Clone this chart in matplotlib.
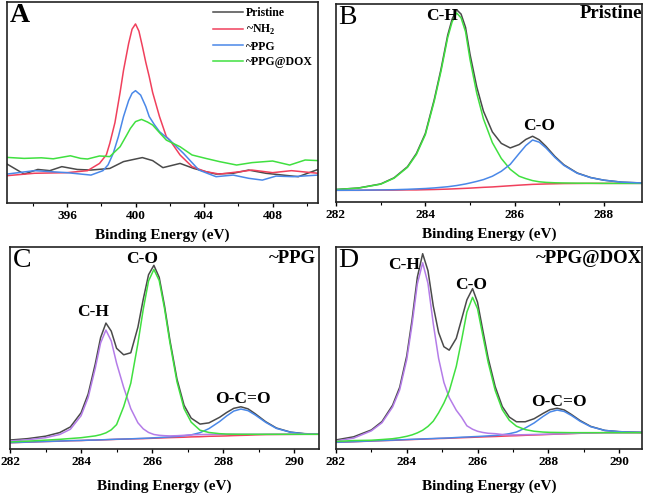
import matplotlib.pyplot as plt

plt.rcParams['font.family'] = ['Liberation Serif', 'DejaVu Serif']
plt.rcParams['mathtext.fontset'] = 'custom'
plt.rcParams['mathtext.rm'] = 'Liberation Serif'
plt.rcParams['mathtext.bf'] = 'Liberation Serif:bold'
plt.rcParams['lines.solid_joinstyle'] = 'round'

# ---- panel A : N1s spectra ----
a_pristine_x = [392.5, 393.5, 394.3, 395.0, 395.7, 396.6, 397.4, 398.5, 399.3, 399.9, 400.4, 401.0,
                401.6, 402.6, 403.4, 404.1, 404.7, 405.7, 406.6, 407.6, 408.6, 409.5, 410.65]
a_pristine_y = [19.4, 14.4, 16.7, 16.1, 18.1, 16.7, 16.4, 17.2, 20.6, 21.7, 22.6, 21.1,
                17.6, 19.7, 17.2, 15.6, 14.4, 14.8, 16.4, 14.8, 13.9, 13.1, 16.7]
a_nh2_x = [392.5, 394.1, 396.0, 397.2, 397.9, 398.3, 398.5, 398.8, 399.1, 399.3, 399.6, 399.8, 400.0,
           400.2, 400.4, 400.6, 400.8, 401.0, 401.4, 401.8, 402.0, 402.6, 403.3, 404.1, 404.9,
           406.1, 406.8, 408.0, 409.1, 410.65]
a_nh2_y = [13.6, 14.8, 15.1, 16.1, 19.7, 24.0, 29.7, 40.0, 55.0, 66.0, 79.4, 86.5, 89.1,
           85.5, 78.0, 70.0, 62.9, 55.0, 43.0, 33.0, 31.3, 23.9, 18.1, 15.6, 14.4,
           15.6, 16.4, 15.1, 16.1, 14.8]
a_ppg_x = [392.5, 394.1, 396.0, 397.4, 398.1, 398.4, 398.7, 399.0, 399.3, 399.6, 399.8, 400.0, 400.3,
           400.6, 400.8, 401.1, 401.4, 402.0, 402.8, 403.7, 404.7, 405.7, 406.6, 407.4, 408.2,
           409.2, 410.65]
a_ppg_y = [14.4, 16.1, 15.1, 13.9, 16.1, 19.0, 24.7, 33.0, 43.0, 51.0, 54.6, 55.9, 53.7,
           48.0, 43.0, 39.0, 35.5, 31.3, 24.7, 16.4, 13.1, 13.9, 12.3, 11.4, 13.4,
           13.1, 13.9]
a_dox_x = [392.5, 393.5, 394.5, 395.2, 396.2, 396.8, 397.2, 397.9, 398.5, 399.1, 399.5, 399.7, 400.0,
           400.35, 400.7, 401.0, 401.4, 401.8, 402.6, 403.3, 404.1, 404.9, 405.9, 406.8, 408.0,
           409.0, 409.9, 410.65]
a_dox_y = [22.7, 22.2, 22.5, 22.0, 23.5, 22.2, 21.9, 23.4, 23.1, 28.0, 34.0, 37.1, 40.5,
           41.6, 40.3, 38.8, 35.0, 31.3, 28.0, 23.9, 22.2, 20.6, 18.9, 20.1, 20.9,
           18.9, 21.4, 21.1]
a_ticks = [396, 400, 404, 408]
a_minor = [394, 398, 402, 406, 410]

# ---- panel B : C1s pristine ----
b_x = [282.0, 282.5, 283.0, 283.3, 283.6, 283.8, 284.0, 284.2, 284.35, 284.5, 284.6, 284.7, 284.8,
       284.9, 285.0, 285.15, 285.3, 285.5, 285.7, 285.9, 286.1, 286.25, 286.4, 286.55, 286.7,
       286.9, 287.1, 287.4, 287.7, 288.0, 288.4, 288.85]
b_total = [6.3, 7.05, 9.1, 12.2, 17.8, 24.5, 34.6, 51.8, 67.0, 84.2, 92.4, 97.1, 94.9,
           88.2, 74.6, 58.2, 45.9, 35.4, 29.6, 27.3, 29.0, 31.6, 33.2, 31.4, 28.1,
           23.0, 18.8, 14.65, 12.35, 11.0, 10.0, 9.6]
b_ch = [6.3, 7.0, 9.0, 12.0, 17.5, 24.0, 34.0, 51.0, 66.0, 83.0, 91.0, 95.5, 93.0,
        86.0, 72.0, 55.0, 42.0, 30.0, 22.0, 16.5, 13.0, 11.8, 10.8, 10.2, 9.9,
        9.7, 9.6, 9.5, 9.45, 9.4, 9.4, 9.4]
b_co = [5.9, 5.95, 6.1, 6.2, 6.4, 6.6, 6.8, 7.1, 7.4, 7.7, 8.0, 8.3, 8.7,
        9.1, 9.6, 10.4, 11.3, 13.0, 15.5, 19.0, 24.5, 28.5, 31.3, 30.2, 27.3,
        22.5, 18.5, 14.5, 12.3, 11.0, 10.0, 9.6]
b_base = [5.9, 5.9, 6.0, 6.0, 6.1, 6.1, 6.2, 6.3, 6.4, 6.5, 6.6, 6.7, 6.8,
          6.9, 7.0, 7.2, 7.4, 7.6, 7.9, 8.2, 8.5, 8.7, 8.9, 9.0, 9.1,
          9.2, 9.3, 9.35, 9.4, 9.4, 9.4, 9.4]
b_ticks = [282, 284, 286, 288]
b_minor = [283, 285, 287]

# ---- panel C : C1s ~PPG ----
c_x = [282.0, 282.5, 283.0, 283.4, 283.7, 284.0, 284.2, 284.4, 284.55, 284.7, 284.85, 285.0, 285.2,
       285.4, 285.6, 285.75, 285.9, 286.05, 286.2, 286.35, 286.5, 286.7, 286.9, 287.1, 287.35,
       287.6, 287.9, 288.1, 288.3, 288.5, 288.7, 288.9, 289.2, 289.5, 289.9, 290.3, 290.7]
c_total = [4.45, 5.15, 6.35, 8.15, 10.95, 17.95, 27.25, 42.15, 55.15, 62.35, 58.35, 49.85, 46.65,
           47.65, 60.3, 74.1, 86.3, 90.95, 85.0, 70.85, 54.0, 34.65, 21.65, 15.3, 12.35,
           12.95, 15.7, 18.1, 20.15, 20.9, 19.9, 17.5, 13.5, 10.4, 8.35, 7.6, 7.35]
c_ch = [4.0, 4.6, 5.6, 7.2, 9.8, 16.5, 25.5, 40.0, 52.5, 58.9, 53.5, 42.5, 30.5,
        20.0, 13.0, 10.0, 8.2, 7.2, 6.8, 6.6, 6.5, 6.6, 6.8, 7.0, 7.15,
        7.25, 7.3, 7.3, 7.3, 7.3, 7.3, 7.3, 7.3, 7.3, 7.3, 7.3, 7.3]
c_co = [3.5, 3.9, 4.4, 4.8, 5.2, 5.6, 6.05, 6.5, 7.1, 8.0, 9.5, 12.1, 21.0,
        32.6, 52.3, 69.1, 83.2, 88.9, 83.4, 69.5, 52.8, 33.3, 20.0, 13.3, 9.3,
        8.2, 7.6, 7.4, 7.35, 7.3, 7.3, 7.3, 7.3, 7.3, 7.3, 7.3, 7.3]
c_oco = [3.15, 3.45, 3.75, 3.95, 4.15, 4.25, 4.4, 4.45, 4.55, 4.65, 4.75, 4.85, 4.95,
         5.05, 5.2, 5.3, 5.4, 5.55, 5.7, 5.85, 6.0, 6.25, 6.55, 7.0, 8.1,
         10.1, 13.6, 16.4, 18.8, 19.8, 19.0, 16.9, 13.2, 10.2, 8.3, 7.5, 7.35]
c_base = [3.1, 3.4, 3.7, 3.9, 4.1, 4.2, 4.35, 4.4, 4.5, 4.6, 4.7, 4.8, 4.9,
          5.0, 5.1, 5.15, 5.25, 5.35, 5.45, 5.55, 5.65, 5.75, 5.85, 6.0, 6.1,
          6.3, 6.4, 6.5, 6.65, 6.75, 6.85, 7.0, 7.15, 7.2, 7.25, 7.3, 7.3]

# ---- panel D : C1s ~PPG@DOX ----
d_x = [282.0, 282.5, 283.0, 283.3, 283.6, 283.8, 284.0, 284.15, 284.3, 284.45, 284.6, 284.75, 284.9,
       285.05, 285.2, 285.4, 285.55, 285.7, 285.86, 286.0, 286.15, 286.3, 286.5, 286.7, 286.9,
       287.1, 287.35, 287.6, 287.85, 288.05, 288.25, 288.45, 288.65, 288.9, 289.2, 289.6, 290.0,
       290.3, 290.65]
d_total = [4.5, 6.05, 9.45, 13.6, 21.7, 30.55, 46.1, 64.0, 85.1, 96.7, 88.3, 70.8, 57.7,
           50.65, 48.95, 54.8, 64.25, 73.85, 79.4, 72.7, 58.75, 45.1, 30.9, 21.05, 15.8,
           13.5, 13.5, 15.0, 17.6, 19.5, 20.2, 19.35, 17.15, 14.1, 11.2, 9.2, 8.6,
           8.4, 8.25]
d_ch = [4.0, 5.4, 9.0, 13.0, 20.8, 29.3, 44.3, 61.6, 81.8, 92.2, 82.0, 62.0, 44.9,
        33.0, 25.5, 19.2, 15.7, 11.5, 9.8, 8.8, 8.2, 7.8, 7.6, 7.2, 7.0,
        7.0, 7.1, 7.2, 7.3, 7.4, 7.5, 7.6, 7.7, 7.85, 7.95, 8.1, 8.1,
        8.1, 8.1]
d_co = [3.75, 4.2, 4.35, 4.7, 5.1, 5.6, 6.3, 7.0, 8.0, 9.3, 11.2, 13.8, 17.9,
        22.75, 28.65, 40.9, 53.9, 67.8, 75.1, 69.5, 56.2, 43.0, 29.0, 19.5, 14.2,
        11.3, 9.6, 8.8, 8.4, 8.25, 8.2, 8.15, 8.1, 8.1, 8.1, 8.1, 8.1,
        8.1, 8.1]
d_oco = [3.35, 3.65, 4.0, 4.2, 4.4, 4.55, 4.7, 4.8, 4.9, 5.0, 5.1, 5.2, 5.3,
         5.4, 5.5, 5.7, 5.85, 5.95, 6.1, 6.2, 6.35, 6.5, 6.7, 7.05, 7.6,
         8.4, 10.4, 12.9, 16.1, 18.35, 19.3, 18.6, 16.65, 13.75, 11.05, 9.2, 8.6,
         8.4, 8.25]
d_base = [3.3, 3.6, 3.95, 4.15, 4.3, 4.45, 4.6, 4.7, 4.8, 4.9, 5.0, 5.1, 5.2,
          5.25, 5.35, 5.5, 5.6, 5.7, 5.8, 5.9, 6.0, 6.1, 6.2, 6.35, 6.5,
          6.6, 6.8, 6.95, 7.1, 7.25, 7.4, 7.5, 7.65, 7.8, 7.95, 8.1, 8.1,
          8.1, 8.1]
cd_ticks = [282, 284, 286, 288, 290]
cd_minor = [283, 285, 287, 289]

gray = '#4a4a4a'
red = '#f0405c'
blue = '#4a88e8'
green = '#40e040'
purple = '#b47ce8'
lw = 1.1


def setup(ax, xlim, ticks, minor, letter, labelpad):
    ax.set_xlim(xlim)
    ax.set_ylim(0, 100)
    ax.set_yticks([])
    ax.set_xticks(ticks)
    ax.set_xticklabels([str(t) for t in ticks], fontsize=9.5, fontweight='bold')
    ax.set_xticks(minor, minor=True)
    ax.tick_params(axis='x', which='major', direction='out', length=3, width=1, pad=2)
    ax.tick_params(axis='x', which='minor', direction='out', length=2, width=0.8)
    for sp in ax.spines.values():
        sp.set_linewidth(1.2)
        sp.set_color('#222222')
    ax.set_xlabel('Binding Energy (eV)', fontsize=11, fontweight='bold', labelpad=labelpad)
    ax.text(0.008, 0.995, letter, transform=ax.transAxes, ha='left', va='top',
            fontsize=20, fontweight='bold' if letter == 'A' else 'normal')


fig = plt.figure(figsize=(6.47, 4.93), dpi=100)

axA = fig.add_axes([0.0108, 0.5882, 0.4807, 0.4077])
axA.plot(a_pristine_x, a_pristine_y, color=gray, lw=lw, label='Pristine')
axA.plot(a_nh2_x, a_nh2_y, color=red, lw=lw, label='~NH$_\\mathbf{2}$')
axA.plot(a_ppg_x, a_ppg_y, color=blue, lw=lw, label='~PPG')
axA.plot(a_dox_x, a_dox_y, color=green, lw=lw, label='~PPG@DOX')
setup(axA, (392.5, 410.65), a_ticks, a_minor, 'A', 5)
axA.legend(loc='upper right', frameon=False, borderaxespad=0.35, borderpad=0.1,
           handlelength=2.6, handletextpad=0.2, labelspacing=0.3,
           prop={'weight': 'bold', 'size': 8.5})

axB = fig.add_axes([0.5193, 0.5903, 0.4730, 0.4016])
axB.plot(b_x, b_total, color=gray, lw=lw)
axB.plot(b_x, b_base, color=red, lw=lw)
axB.plot(b_x, b_ch, color=green, lw=lw)
axB.plot(b_x, b_co, color=blue, lw=lw)
setup(axB, (282, 288.85), b_ticks, b_minor, 'B', 5)
axB.text(1.0, 0.995, 'Pristine', transform=axB.transAxes, ha='right', va='top',
         fontsize=13.5, fontweight='bold')
axB.text(284.38, 90, 'C-H', ha='center', va='bottom', fontsize=12.5, fontweight='bold')
axB.text(286.55, 34.5, 'C-O', ha='center', va='bottom', fontsize=12.5, fontweight='bold')

axC = fig.add_axes([0.0155, 0.0892, 0.4776, 0.4097])
axC.plot(c_x, c_total, color=gray, lw=lw)
axC.plot(c_x, c_base, color=red, lw=lw)
axC.plot(c_x, c_oco, color=blue, lw=lw)
axC.plot(c_x, c_ch, color=purple, lw=lw)
axC.plot(c_x, c_co, color=green, lw=lw)
setup(axC, (282, 290.7), cd_ticks, cd_minor, 'C', 8)
axC.text(0.99, 0.985, '~PPG', transform=axC.transAxes, ha='right', va='top',
         fontsize=13.5, fontweight='bold')
axC.text(284.34, 63.9, 'C-H', ha='center', va='bottom', fontsize=12.5, fontweight='bold')
axC.text(285.72, 90, 'C-O', ha='center', va='bottom', fontsize=12.5, fontweight='bold')
axC.text(288.55, 20.8, 'O-C=O', ha='center', va='bottom', fontsize=12.5, fontweight='bold')

axD = fig.add_axes([0.5193, 0.0892, 0.4730, 0.4097])
axD.plot(d_x, d_total, color=gray, lw=lw)
axD.plot(d_x, d_base, color=red, lw=lw)
axD.plot(d_x, d_oco, color=blue, lw=lw)
axD.plot(d_x, d_ch, color=purple, lw=lw)
axD.plot(d_x, d_co, color=green, lw=lw)
setup(axD, (282, 290.65), cd_ticks, cd_minor, 'D', 8)
axD.text(1.0, 0.985, '~PPG@DOX', transform=axD.transAxes, ha='right', va='top',
         fontsize=13.5, fontweight='bold')
axD.text(283.93, 87, 'C-H', ha='center', va='bottom', fontsize=12.5, fontweight='bold')
axD.text(285.81, 77, 'C-O', ha='center', va='bottom', fontsize=12.5, fontweight='bold')
axD.text(288.31, 19.3, 'O-C=O', ha='center', va='bottom', fontsize=12.5, fontweight='bold')

fig.savefig('out.png', dpi=100)
